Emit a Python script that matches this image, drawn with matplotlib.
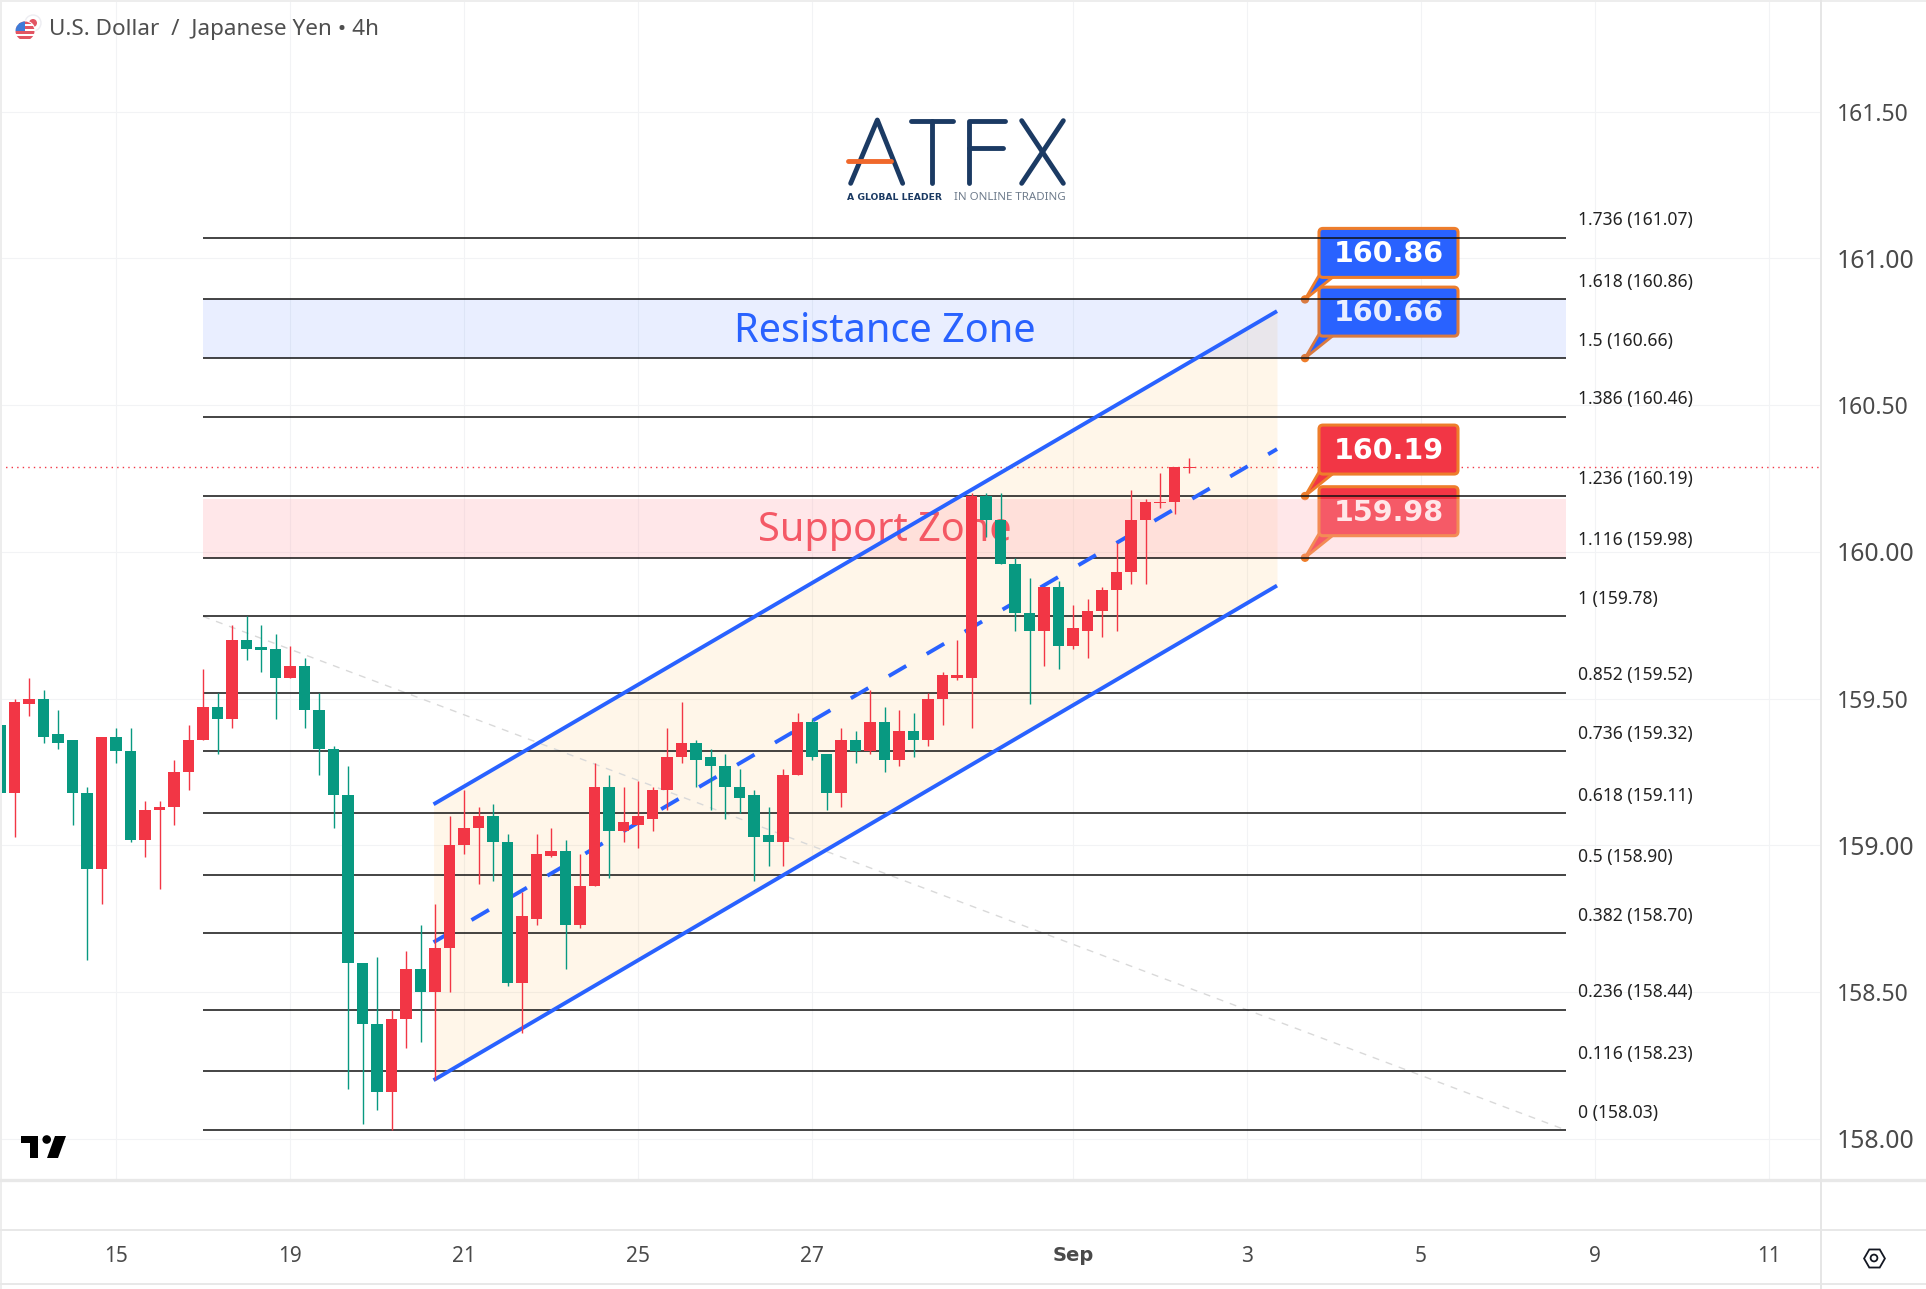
import matplotlib
matplotlib.use('Agg')
import matplotlib.pyplot as plt
from matplotlib.lines import Line2D
from matplotlib.patches import Circle, FancyBboxPatch, Polygon, Rectangle
from matplotlib.transforms import IdentityTransform

plt.rcParams['font.family'] = ['Noto Sans', 'DejaVu Sans']

W, H = 1926, 1289

opens = [159.41, 159.18, 159.48, 159.50, 159.38, 159.36, 159.18, 158.92, 159.37, 159.32,
         159.02, 159.12, 159.13, 159.25, 159.36, 159.47, 159.43, 159.70, 159.675, 159.67,
         159.57, 159.61, 159.46, 159.33, 159.17, 158.60, 158.39, 158.16, 158.41, 158.58,
         158.50, 158.65, 159.00, 159.06, 159.10, 159.01, 158.53, 158.75, 158.965, 158.98,
         158.73, 158.86, 159.20, 159.05, 159.07, 159.09, 159.19, 159.30, 159.35, 159.30,
         159.27, 159.20, 159.17, 159.035, 159.01, 159.24, 159.42, 159.31, 159.18, 159.36,
         159.32, 159.42, 159.29, 159.39, 159.36, 159.50, 159.57, 159.57, 160.19, 160.11,
         159.96, 159.79, 159.73, 159.88, 159.68, 159.73, 159.80, 159.87, 159.93, 160.11,
         160.165, 160.17, 160.287]
highs = [159.45, 159.50, 159.57, 159.53, 159.46, 159.36, 159.20, 159.37, 159.40, 159.40,
         159.15, 159.15, 159.29, 159.41, 159.60, 159.52, 159.75, 159.78, 159.75, 159.72,
         159.68, 159.64, 159.52, 159.34, 159.27, 158.60, 158.62, 158.44, 158.64, 158.73,
         158.80, 159.10, 159.19, 159.13, 159.14, 159.04, 158.84, 159.04, 159.06, 159.02,
         158.97, 159.28, 159.24, 159.20, 159.22, 159.20, 159.40, 159.49, 159.36, 159.33,
         159.31, 159.26, 159.19, 159.13, 159.26, 159.45, 159.43, 159.31, 159.40, 159.39,
         159.53, 159.47, 159.46, 159.45, 159.52, 159.59, 159.70, 160.20, 160.20, 160.20,
         159.98, 159.91, 159.88, 159.90, 159.82, 159.84, 159.88, 160.03, 160.21, 160.18,
         160.27, 160.29, 160.32]
lows = [159.02, 159.03, 159.44, 159.35, 159.33, 159.07, 158.61, 158.80, 159.28, 159.01,
        158.96, 158.85, 159.07, 159.19, 159.36, 159.31, 159.40, 159.63, 159.59, 159.43,
        159.57, 159.40, 159.24, 159.06, 158.17, 158.05, 158.10, 158.03, 158.31, 158.33,
        158.20, 158.50, 158.97, 158.87, 158.88, 158.52, 158.36, 158.73, 158.96, 158.58,
        158.72, 158.86, 158.89, 159.01, 158.99, 159.05, 159.12, 159.28, 159.20, 159.12,
        159.09, 159.11, 158.88, 158.93, 158.93, 159.24, 159.29, 159.12, 159.13, 159.28,
        159.31, 159.25, 159.27, 159.30, 159.34, 159.41, 159.565, 159.40, 160.05, 159.96,
        159.73, 159.48, 159.61, 159.60, 159.67, 159.64, 159.71, 159.73, 159.89, 159.89,
        160.15, 160.13, 160.27]
closes = [159.18, 159.49, 159.50, 159.37, 159.35, 159.18, 158.92, 159.37, 159.32, 159.02,
          159.12, 159.13, 159.25, 159.36, 159.47, 159.43, 159.70, 159.67, 159.665, 159.57,
          159.61, 159.46, 159.33, 159.17, 158.60, 158.39, 158.16, 158.41, 158.58, 158.50,
          158.65, 159.00, 159.06, 159.10, 159.01, 158.53, 158.76, 158.97, 158.98, 158.73,
          158.86, 159.20, 159.05, 159.08, 159.10, 159.19, 159.30, 159.35, 159.29, 159.27,
          159.20, 159.16, 159.03, 159.01, 159.24, 159.42, 159.30, 159.18, 159.36, 159.32,
          159.42, 159.29, 159.39, 159.36, 159.50, 159.58, 159.58, 160.19, 160.11, 159.96,
          159.79, 159.73, 159.88, 159.68, 159.74, 159.80, 159.87, 159.93, 160.11, 160.17,
          160.17, 160.29, 160.29]

fib_ratios = ['1.736', '1.618', '1.5', '1.386', '1.236', '1.116', '1', '0.852',
              '0.736', '0.618', '0.5', '0.382', '0.236', '0.116', '0']
fib_levels = [161.07, 160.86, 160.66, 160.46, 160.19, 159.98, 159.78, 159.52,
              159.32, 159.11, 158.90, 158.70, 158.44, 158.23, 158.03]
fib_start, fib_end = 14, 108

resistance_zone = (160.66, 160.86)
support_zone = (159.98, 160.18)

channel_x = [29.9, 88.07]
channel_top = [159.14, 160.82]
channel_mid = [158.67, 160.35]
channel_bottom = [158.20, 159.885]

trend_x = [14, 108]
trend_y = [159.78, 158.03]

last_price = 160.29

callout_bar = 90
callout_prices = [160.86, 160.66, 160.19, 159.98]
callout_labels = ['160.86', '160.66', '160.19', '159.98']
callout_colors = ['#2962FF', '#2962FF', '#F23645', '#F23645']

price_ticks = [158.0, 158.5, 159.0, 159.5, 160.0, 160.5, 161.0, 161.5]
date_ticks = [8, 20, 32, 44, 56, 74, 86, 98, 110, 122]
date_labels = ['15', '19', '21', '25', '27', 'Sep', '3', '5', '9', '11']

RED = '#F23645'
GREEN = '#089981'
BLUE = '#2962FF'
ORANGE = '#EE7D2B'
NAVY = '#1B3A63'

fig = plt.figure(figsize=(W / 100, H / 100), dpi=100)
ax = fig.add_axes([0, (H - 1180) / H, 1822 / W, 1180 / H])
ax.set_xlim(0, 1822 / 14.5)
ax.set_ylim(157.86, 161.88)
for s in ax.spines.values():
    s.set_visible(False)

# axes and grid
ax.yaxis.tick_right()
ax.set_yticks(price_ticks)
ax.set_yticklabels(['%.2f' % p for p in price_ticks])
ax.set_xticks(date_ticks)
ax.set_xticklabels(date_labels)
ax.tick_params(axis='y', length=0, pad=10.5, labelsize=16.5, labelcolor='#4a4a4a')
ax.tick_params(axis='x', length=0, pad=47.5, labelsize=15, labelcolor='#4a4a4a')
ax.grid(True, color='#F2F3F5', lw=0.8)
ax.set_axisbelow(True)
for lab, p in zip(ax.get_yticklabels(), price_ticks):
    if p == int(p):
        lab.set_fontsize(17.8)
sep = ax.get_xticklabels()[5]
sep.set_family('DejaVu Sans')
sep.set_fontweight('bold')
sep.set_fontsize(14)

ax.axhline(last_price, color=RED, lw=1, ls=(0, (1, 3)), zorder=1)

# callouts sit under the fib lines and zones
ax.figure.canvas.draw()
for price, label, color in zip(callout_prices, callout_labels, callout_colors):
    tx, ty = ax.transData.transform((callout_bar, price))
    ident = IdentityTransform()
    tail = Polygon([(tx, ty), (tx + 14, ty + 24), (tx + 30, ty + 24)], closed=True,
                   facecolor=color, edgecolor=ORANGE, lw=2, transform=ident, zorder=2)
    ax.add_patch(tail)
    box = FancyBboxPatch((tx + 14, ty + 22), 139, 49, boxstyle='round,pad=0,rounding_size=4',
                         facecolor=color, edgecolor=ORANGE, lw=2.2, transform=ident, zorder=2.1)
    ax.add_patch(box)
    ax.add_patch(Circle((tx, ty), 3.5, color=ORANGE, transform=ident, zorder=2.2))
    ax.text(tx + 84, ty + 45, label, color='white', fontsize=20.5, fontweight='bold',
            family='DejaVu Sans', ha='center', va='center', transform=ident, zorder=2.2)

# channel
ax.fill_between(channel_x, channel_bottom, channel_top, color='#FF9800', alpha=0.085, lw=0, zorder=3)
ax.plot(channel_x, channel_top, color=BLUE, lw=2.8, solid_capstyle='butt', zorder=5)
ax.plot(channel_x, channel_bottom, color=BLUE, lw=2.8, solid_capstyle='butt', zorder=5)
ax.plot(channel_x, channel_mid, color=BLUE, lw=2.8, ls=(0, (5.2, 6.1)), zorder=5)

ax.plot(trend_x, trend_y, color='#D9D9D9', lw=1, ls=(0, (5, 5)), zorder=3.5)

# zones and fib levels
ax.fill_between([fib_start, fib_end], *resistance_zone, color=BLUE, alpha=0.1, lw=0, zorder=4)
ax.fill_between([fib_start, fib_end], *support_zone, color='#FFB0B8', alpha=0.3, lw=0, zorder=4)
ax.hlines(fib_levels, fib_start, fib_end, color='#111111', lw=1.1, zorder=4.2)
for ratio, level in zip(fib_ratios, fib_levels):
    ax.annotate('%s (%.2f)' % (ratio, level), (108.8, level), xytext=(0, 12.6),
                textcoords='offset points', fontsize=12.6, color='#222222', ha='left', va='center')

ax.text(61, 160.748, 'Resistance Zone', color=BLUE, fontsize=28.6,
        ha='center', va='center', zorder=4.5)
ax.text(61, 160.072, 'Support Zone', color=RED, alpha=0.8, fontsize=28.6,
        ha='center', va='center', zorder=4.5)

# candles
for i in range(len(opens)):
    c = RED if closes[i] >= opens[i] else GREEN
    ax.vlines(i, lows[i], highs[i], color=c, lw=1, zorder=6)
    ax.bar(i, abs(closes[i] - opens[i]), bottom=min(opens[i], closes[i]), width=0.76,
           color=c, lw=0, zorder=6.1)

# everything below is page furniture, placed in pixels
ov = fig.add_axes([0, 0, 1, 1], facecolor='none')
ov.set_xlim(0, W)
ov.set_ylim(H, 0)
ov.axis('off')

# pane borders
ov.add_patch(Rectangle((0, 0), W, 2, color='#EDEDED', lw=0))
ov.add_patch(Rectangle((0, 0), 2, H, color='#EDEDED', lw=0))
ov.add_line(Line2D([0, W], [1180, 1180], color='#E8E8E8', lw=2.4))
ov.add_line(Line2D([0, W], [1230, 1230], color='#E8E8E8', lw=1.4))
ov.add_line(Line2D([0, W], [1284, 1284], color='#E8E8E8', lw=1.4))
ov.add_line(Line2D([1821, 1821], [0, H], color='#E6E6E6', lw=1.4))

# header
ov.add_patch(Circle((33, 23), 8, facecolor='white', edgecolor='#EDEDF2', lw=1))
ov.add_patch(Circle((33, 23), 4, color='#E25563', lw=0))
flag = Circle((25, 31), 9.5, facecolor='white', edgecolor='white', lw=1.5)
ov.add_patch(flag)
for y0 in [21, 26, 31, 36]:
    st = Rectangle((15, y0), 20, 2.6, color='#E25563', lw=0)
    ov.add_patch(st)
    st.set_clip_path(flag)
canton = Rectangle((15, 21), 10, 10, color='#3F7BD8', lw=0)
ov.add_patch(canton)
canton.set_clip_path(flag)
ov.text(49, 30, 'U.S. Dollar  /  Japanese Yen \u2022 4h', fontsize=16.2, color='#4F4F4F', va='center', ha='left')

# ATFX logo
def logo_line(xs, ys, color=NAVY, lw=3.5):
    ov.add_line(Line2D([820 + x / 3 for x in xs], [100 + y / 3 for y in ys],
                       color=color, lw=lw, solid_capstyle='round', solid_joinstyle='round'))

logo_line([92, 172, 248], [250, 60, 250])
logo_line([272, 400], [62, 62])
logo_line([335, 335], [62, 250])
logo_line([555, 447, 447], [62, 62, 250])
logo_line([447, 548], [143, 143])
logo_line([605, 730], [62, 250])
logo_line([730, 605], [62, 250])
logo_line([85, 212], [182, 182], color='#F0682B')
ov.text(847, 198, 'A GLOBAL LEADER', fontsize=6.7, fontweight='bold', family='DejaVu Sans',
        color=NAVY, va='center', ha='left')
ov.text(954, 198, 'IN ONLINE TRADING', fontsize=8.3, color='#6F7C8C', va='center', ha='left')

# TradingView mark
ov.add_patch(Polygon([(21, 1136), (38, 1136), (38, 1158), (30, 1158), (30, 1143), (21, 1143)], color='black', lw=0))
ov.add_patch(Circle((46.7, 1139.5), 4.3, color='black', lw=0))
ov.add_patch(Polygon([(55, 1136), (66, 1136), (58, 1158), (47, 1158)], color='black', lw=0))

# settings icon
ov.add_line(Line2D([1874], [1258], marker='H', ms=15, mfc='none', mec='#131722', mew=1.3))
ov.add_patch(Circle((1874, 1258), 3.4, facecolor='none', edgecolor='#131722', lw=1.3))

fig.savefig('out.png', dpi=100)
